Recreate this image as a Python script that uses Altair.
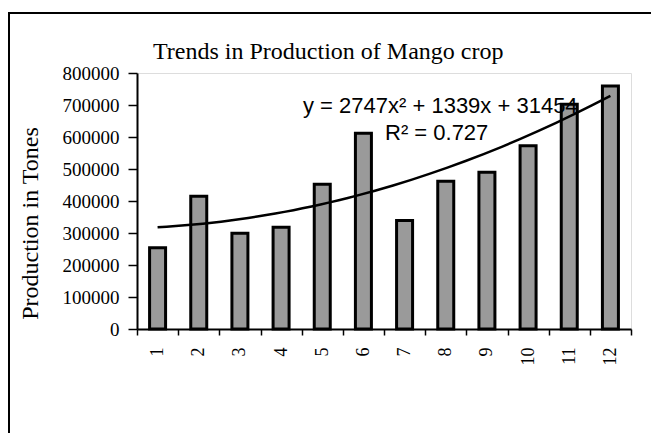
import altair as alt
import pandas as pd

months = [1, 2, 3, 4, 5, 6, 7, 8, 9, 10, 11, 12]
production = [254000, 415000, 299000, 318000, 452000, 612000,
              339000, 462000, 490000, 573000, 702000, 759000]
y_ticks = [0, 100000, 200000, 300000, 400000, 500000, 600000, 700000, 800000]
title_text = "Trends in Production of Mango crop"
y_title = "Production in Tones"
eq_line1 = "y = 2747x\u00b2 + 1339x + 31454"
eq_line2 = "R\u00b2 = 0.727"

df = pd.DataFrame({"month": months, "production": production})

W, H = 494, 256
serif = "Liberation Serif"
sans = "Liberation Sans"

yscale = alt.Scale(domain=[0, 800000], nice=False)
y_axis = alt.Axis(values=y_ticks, tickCount=9, format="d", title=y_title, grid=False,
                  labelOverlap=False,
                  labelFont=serif, labelFontSize=19, labelColor="black",
                  labelPadding=9, domainColor="black", domainWidth=2,
                  tickColor="black", tickSize=9, tickWidth=1.5,
                  titleFont=serif, titleFontSize=24, titleFontWeight="normal",
                  titleColor="black", titleAngle=270, titleX=-107, titleY=150,
                  titleAlign="center", titleBaseline="middle")

base = alt.Chart(df)

frame = alt.Chart(pd.DataFrame({"a": [0]})).mark_rect(
    filled=False, stroke="black", strokeWidth=2
).encode(
    x=alt.value(-128), x2=alt.value(700), y=alt.value(-60), y2=alt.value(600)
)

title = alt.Chart(pd.DataFrame({"t": [title_text]})).mark_text(
    font=serif, fontSize=24, color="black", align="left", baseline="alphabetic"
).encode(text="t:N", x=alt.value(16), y=alt.value(-14))

bars = base.mark_bar(size=16, fill="#9a9a9a", stroke="black", strokeWidth=3).encode(
    x=alt.X("month:O",
            scale=alt.Scale(paddingInner=0, paddingOuter=0),
            axis=alt.Axis(title=None, labelAngle=270, labelFont=serif, labelFontSize=18,
                          labelColor="black", labelPadding=12, domainColor="black",
                          domainWidth=2, tickColor="black", tickSize=6, tickWidth=1.5,
                          tickBand="extent", grid=False, labelOverlap=False)),
    y=alt.Y("production:Q", scale=yscale, axis=y_axis),
)

trend = base.transform_regression(
    "month", "production", method="poly", order=2, extent=[1, 12]
).mark_line(color="black", strokeWidth=2.5).encode(
    x=alt.X("month:Q", scale=alt.Scale(domain=[0.5, 12.5], nice=False, zero=False), axis=None),
    y=alt.Y("production:Q", scale=yscale, axis=y_axis),
)

eq1 = alt.Chart(pd.DataFrame({"t": [eq_line1]})).mark_text(
    font=sans, fontSize=22, color="black", align="left", baseline="alphabetic"
).encode(text="t:N", x=alt.value(166), y=alt.value(40))

eq2 = alt.Chart(pd.DataFrame({"t": [eq_line2]})).mark_text(
    font=sans, fontSize=22, color="black", align="left", baseline="alphabetic"
).encode(text="t:N", x=alt.value(248), y=alt.value(67))

chart = alt.layer(frame, title, bars, eq1, eq2, trend).resolve_scale(x="independent").properties(
    width=W, height=H,
    autosize=alt.AutoSizeParams(type="none"),
    padding={"left": 129, "top": 65, "right": 20, "bottom": 104},
).configure_view(stroke="#888888", strokeWidth=2).configure(background="white")

chart.save("out.html", embed_options={"renderer": "svg", "actions": False})
